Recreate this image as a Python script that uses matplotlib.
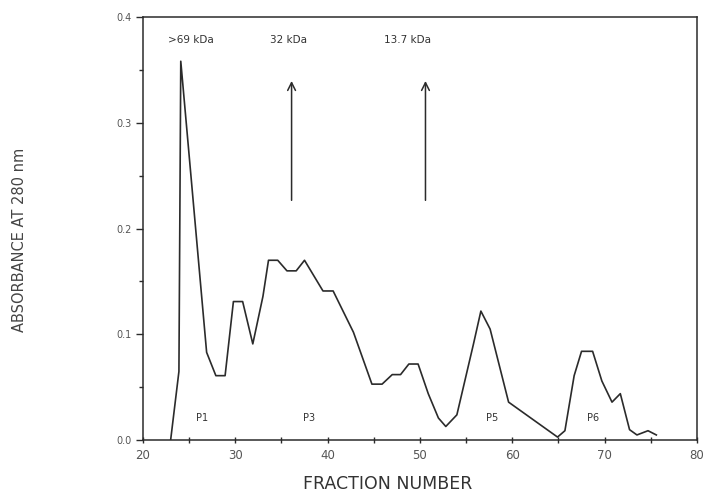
import numpy as np
import matplotlib
matplotlib.use('Agg')
import matplotlib.pyplot as plt
from matplotlib.ticker import MultipleLocator

# elution profile
fraction = [23.0, 23.9, 24.1, 26.9, 27.9, 28.9, 29.8, 30.8, 31.9, 33.0, 33.6,
            34.6, 35.6, 36.6, 37.5, 39.5, 40.6, 42.8, 44.8, 45.9, 47.0, 47.9,
            48.8, 49.8, 50.9, 52.0, 52.8, 54.0, 55.8, 56.6, 57.6, 59.6, 64.9,
            65.7, 66.7, 67.5, 68.7, 69.7, 70.8, 71.7, 72.7, 73.5, 74.7, 75.6]
absorbance = [0.0, 0.065, 0.358, 0.083, 0.061, 0.061, 0.131, 0.131, 0.091, 0.136, 0.170,
              0.170, 0.160, 0.160, 0.170, 0.141, 0.141, 0.102, 0.053, 0.053, 0.062, 0.062,
              0.072, 0.072, 0.044, 0.021, 0.013, 0.024, 0.091, 0.122, 0.105, 0.036, 0.003,
              0.009, 0.061, 0.084, 0.084, 0.056, 0.036, 0.044, 0.010, 0.005, 0.009, 0.005]

marker_labels = ['>69 kDa', '32 kDa', '13.7 kDa']
marker_label_x = [25.2, 35.8, 48.6]
arrow_x = [36.1, 50.6]

peak_labels = ['P1', 'P3', 'P5', 'P6']
peak_label_x = [26.4, 38.0, 57.8, 68.8]

ink = '#2b2b2b'
plt.rcParams['font.family'] = ['DejaVu Sans']

fig = plt.figure(figsize=(7.04, 4.93), dpi=100)
ax = fig.add_axes([0.203, 0.107, 0.787, 0.859])

ax.plot(fraction, absorbance, color=ink, linewidth=1.2)

ax.set_xlim(20, 80)
ax.set_ylim(0, 0.4)
ax.xaxis.set_major_locator(MultipleLocator(10))
ax.xaxis.set_minor_locator(MultipleLocator(5))
ax.yaxis.set_major_locator(MultipleLocator(0.1))
ax.yaxis.set_minor_locator(MultipleLocator(0.05))
ax.yaxis.set_major_formatter(matplotlib.ticker.FormatStrFormatter('%.1f'))

ax.tick_params(axis='y', which='major', direction='out', length=5, width=1,
               color=ink, labelsize=7, labelcolor='#555555', pad=3)
ax.tick_params(axis='y', which='minor', direction='out', length=3, width=1, color=ink)
ax.tick_params(axis='x', which='major', direction='inout', length=5, width=1,
               color=ink, labelsize=8.5, labelcolor='#555555', pad=4)
ax.tick_params(axis='x', which='minor', direction='inout', length=4, width=1, color=ink)

for s in ax.spines.values():
    s.set_color(ink)
    s.set_linewidth(1.1)

fig.text(0.551, 0.018, 'FRACTION NUMBER', fontsize=12.5, color='#333333',
         ha='center', va='center')
fig.text(0.027, 0.513, 'ABSORBANCE AT 280 nm', rotation=90, fontsize=10.5,
         color='#444444', ha='center', va='center')

for lab, xx in zip(marker_labels, marker_label_x):
    ax.text(xx, 0.378, lab, fontsize=7.5, color='#333333', ha='center', va='center')

for xx in arrow_x:
    ax.annotate('', xy=(xx, 0.342), xytext=(xx, 0.224),
                arrowprops=dict(arrowstyle='->', color=ink, lw=1.1,
                                mutation_scale=14))

for lab, xx in zip(peak_labels, peak_label_x):
    ax.text(xx, 0.021, lab, fontsize=7, color='#333333', ha='center', va='center')

fig.savefig('out.png', dpi=100)
